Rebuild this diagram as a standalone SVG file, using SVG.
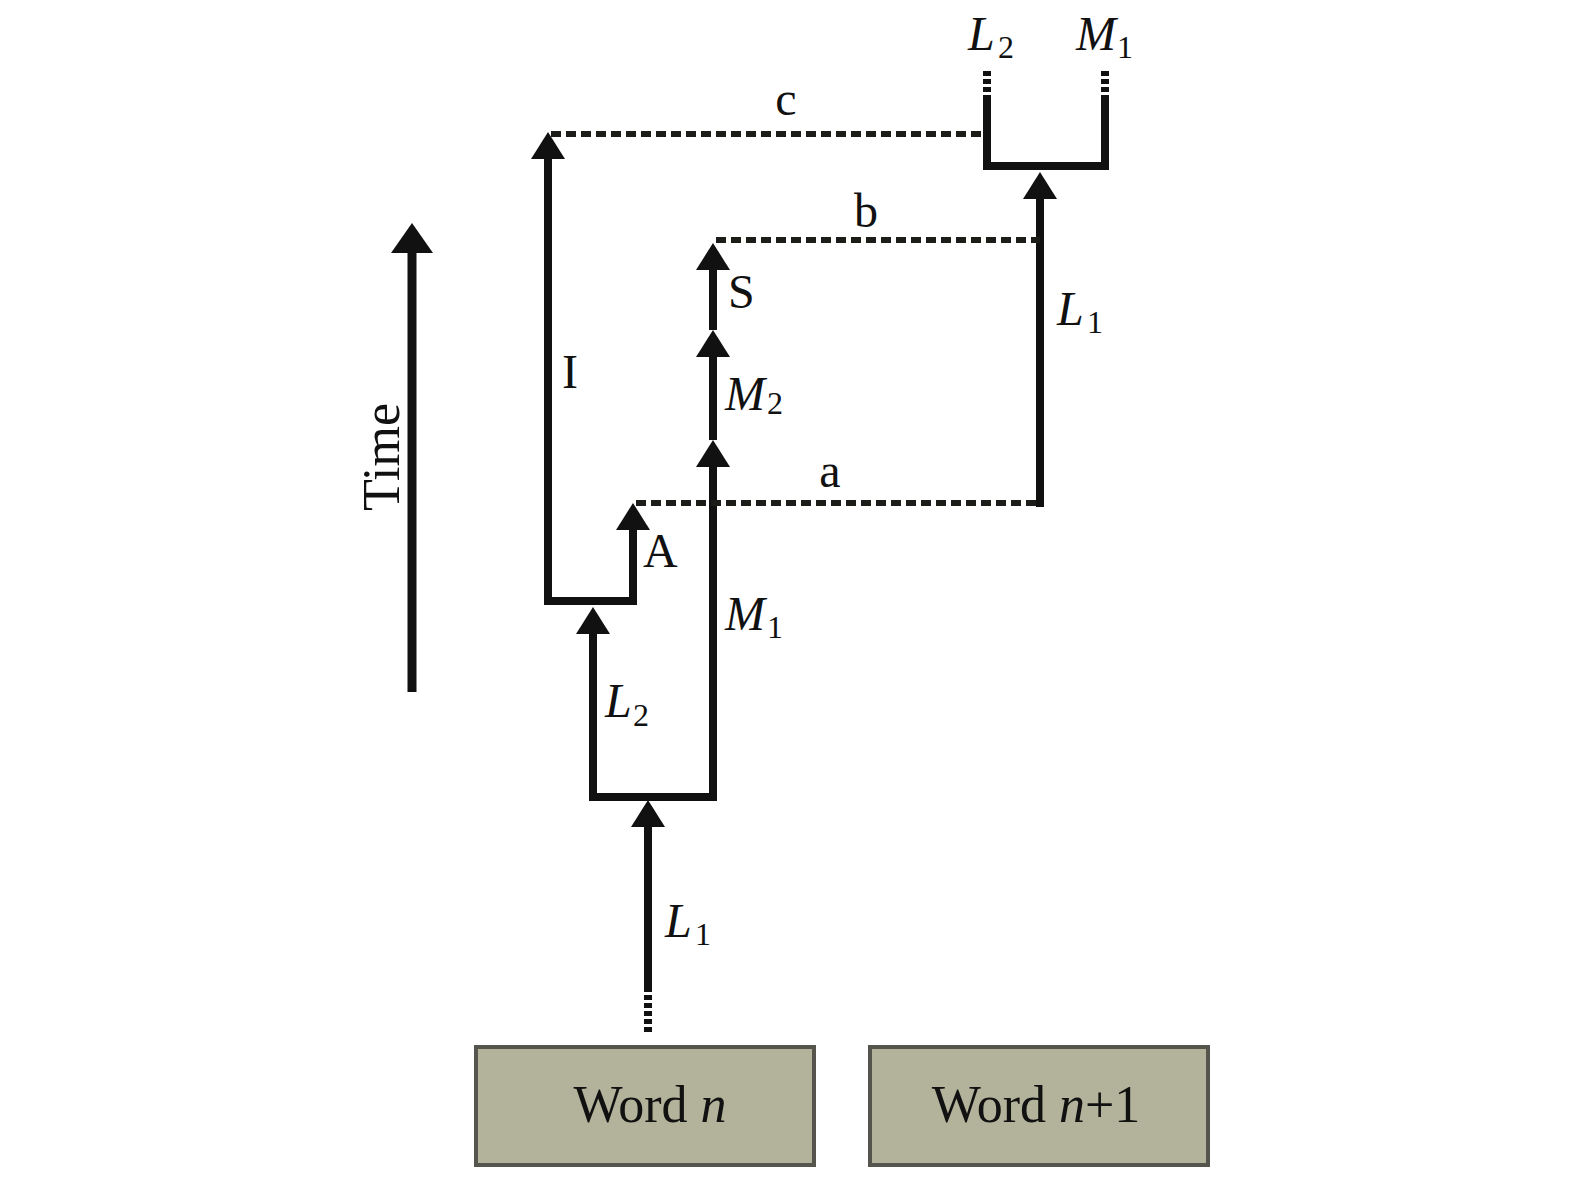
<svg xmlns="http://www.w3.org/2000/svg" xmlns:xlink="http://www.w3.org/1999/xlink" width="1575" height="1181" viewBox="0 0 1575 1181">
<style>
.solid{fill:none;stroke:#111;stroke-width:8;stroke-linejoin:miter;stroke-linecap:butt}
.dash{fill:none;stroke:#1c1c18;stroke-width:6;stroke-dasharray:10 5}
.fine{fill:none;stroke:#111;stroke-width:8;stroke-dasharray:5 3}
.ah{fill:#111}
.lbl{font-family:"Liberation Serif","Times New Roman",serif;font-size:48px;fill:#111}
.it{font-style:italic}
.sub{font-family:"Liberation Serif","Times New Roman",serif;font-size:32px;fill:#111}
.box{fill:#b3b39b;stroke:#55554d;stroke-width:4}
.word{font-family:"Liberation Serif","Times New Roman",serif;font-size:52px;fill:#111;text-anchor:middle}
</style>
<defs>
<path id="ah" d="M0 0 L-17 27 L17 27 Z"/>
</defs>
<rect width="1575" height="1181" fill="#fff"/>
<g id="connectors">
<path class="fine" d="M648 1032 V990"/>
<path class="solid" d="M648 990 V818"/>
<use href="#ah" x="648" y="800" class="ah"/>
<path class="solid" d="M593 622 V797 H713 V458"/>
<use href="#ah" x="593" y="607" class="ah"/>
<use href="#ah" x="713" y="440" class="ah"/>
<path class="solid" d="M548 150 V601 H633 V520"/>
<use href="#ah" x="548" y="132" class="ah"/>
<use href="#ah" x="633" y="503" class="ah"/>
<path class="solid" d="M713 440 V346"/>
<use href="#ah" x="713" y="330" class="ah"/>
<path class="solid" d="M713 330 V258"/>
<use href="#ah" x="713" y="243" class="ah"/>
<path class="dash" d="M636 503 H1040"/>
<path class="solid" d="M1040 507 V188"/>
<use href="#ah" x="1040" y="172" class="ah"/>
<path class="dash" d="M716 240 H1040"/>
<path class="dash" d="M551 134 H987"/>
<path class="solid" d="M987 100 V166 H1105 V100"/>
<path class="fine" d="M987 100 V68 M1105 100 V68"/>
<path class="solid" d="M412 692 V245" style="stroke-width:9"/>
<path d="M412 223 L391 253 L433 253 Z" class="ah"/>
</g>
<g id="labels">
<text class="lbl" x="786" y="115" text-anchor="middle">c</text>
<text class="lbl" x="866" y="227" text-anchor="middle">b</text>
<text class="lbl" x="830" y="487" text-anchor="middle">a</text>
<text class="lbl" x="728" y="308">S</text>
<text class="lbl" x="562" y="388">I</text>
<text class="lbl" x="643" y="567">A</text>
<text class="lbl it" x="725" y="410">M</text><text class="sub" x="767" y="414">2</text>
<text class="lbl it" x="725" y="630">M</text><text class="sub" x="767" y="638">1</text>
<text class="lbl it" x="665" y="937">L</text><text class="sub" x="695" y="945">1</text>
<text class="lbl it" x="605" y="717">L</text><text class="sub" x="633" y="726">2</text>
<text class="lbl it" x="1057" y="325">L</text><text class="sub" x="1087" y="333">1</text>
<text class="lbl it" x="968" y="50">L</text><text class="sub" x="998" y="58">2</text>
<text class="lbl it" x="1076" y="50">M</text><text class="sub" x="1117" y="58">1</text>
<text class="lbl" transform="translate(399,457) rotate(-90)" text-anchor="middle" style="font-size:52px">Time</text>
</g>
<g id="word-n">
<rect class="box" x="476" y="1047" width="338" height="118"/>
<text class="word" x="650" y="1122">Word <tspan class="it">n</tspan></text>
</g>
<g id="word-n1">
<rect class="box" x="870" y="1047" width="338" height="118"/>
<text class="word" x="1036" y="1122">Word <tspan class="it">n</tspan>+1</text>
</g>
</svg>
